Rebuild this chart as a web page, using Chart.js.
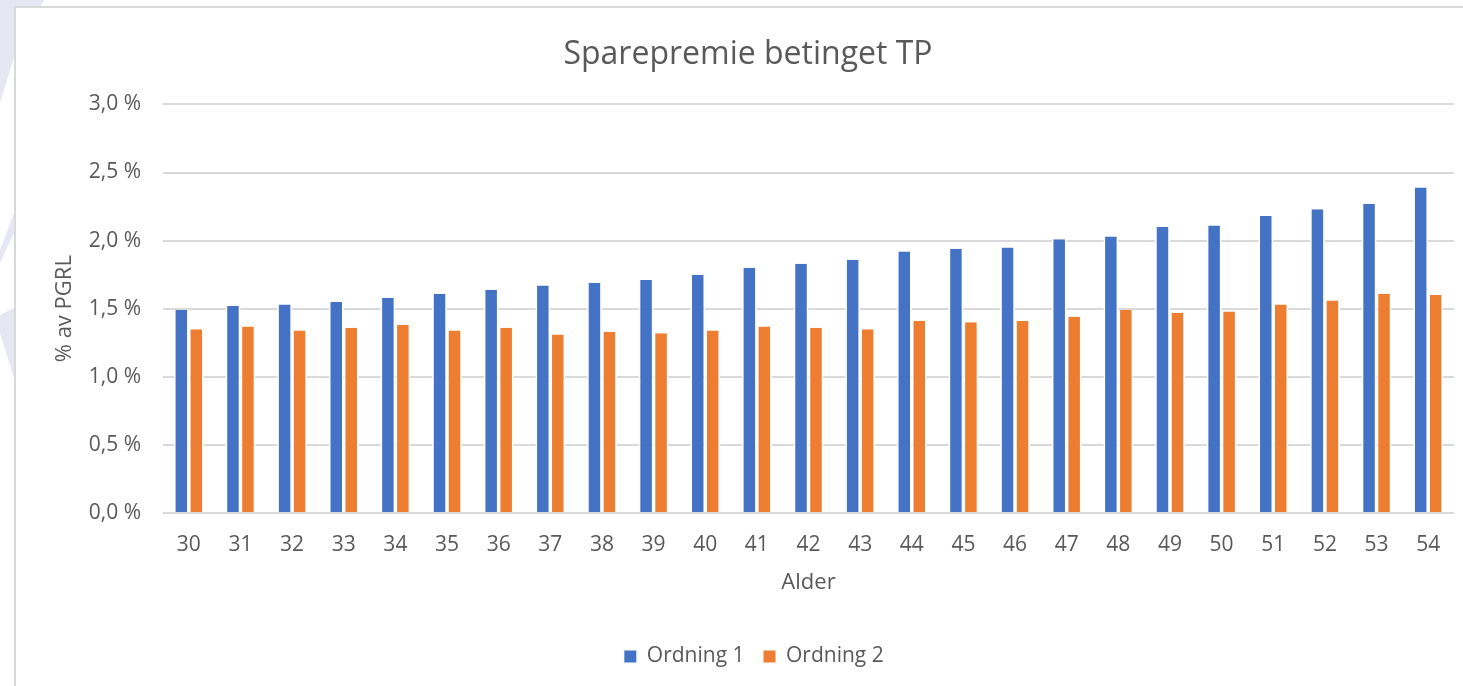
<!DOCTYPE html>
<html><head><meta charset="utf-8">
<script src="https://cdn.jsdelivr.net/npm/chart.js@4"></script>
<style>
html,body{margin:0;padding:0;width:1463px;height:686px;overflow:hidden;background:#fff;}
.deco{position:absolute;background:#e7e7f3;}
#frame{position:absolute;left:14px;top:6px;width:1500px;height:720px;border-left:2px solid #d9d9d9;border-top:2px solid #d9d9d9;background:#fff;}
canvas{position:absolute;left:0;top:0;}
</style></head>
<body>
<div class="deco" style="left:0;top:0;width:44px;height:110px;clip-path:polygon(0px 0px,44px 0px,14px 57px,0px 103px)"></div>
<div class="deco" style="left:0;top:200px;width:14px;height:70px;clip-path:polygon(14px 13px,14px 33px,0px 63px,0px 50px)"></div>
<div class="deco" style="left:0;top:300px;width:14px;height:90px;clip-path:polygon(14px 8px,14px 78px,0px 33px,0px 15px)"></div>
<div id="frame"></div>
<canvas id="c" width="1463" height="686"></canvas>
<script>
const ages = ['30','31','32','33','34','35','36','37','38','39','40','41','42','43','44','45','46','47','48','49','50','51','52','53','54'];
const ordning1 = [1.49,1.52,1.53,1.55,1.58,1.61,1.64,1.67,1.69,1.71,1.75,1.80,1.83,1.86,1.92,1.94,1.95,2.01,2.03,2.10,2.11,2.18,2.23,2.27,2.39];
const ordning2 = [1.35,1.37,1.34,1.36,1.38,1.34,1.36,1.31,1.33,1.32,1.34,1.37,1.36,1.35,1.41,1.40,1.41,1.44,1.49,1.47,1.48,1.53,1.56,1.61,1.60];
const seriesNames = ['Ordning 1','Ordning 2'];
const titleText = 'Sparepremie betinget TP';
const yTitle = '% av PGRL';
const xTitle = 'Alder';

const TXT = '#595959';
const FONT = '"Open Sans", "Noto Sans", sans-serif';
const border = {top:0,bottom:0,left:1.75,right:1.75};

const legendShift = {
  id:'legendShift',
  afterLayout(chart){ if(chart.legend){ chart.legend.left += 6; chart.legend.right += 6; } }
};

new Chart(document.getElementById('c'), {
  type: 'bar',
  data: {
    labels: ages,
    datasets: [
      {label: seriesNames[0], data: ordning1, backgroundColor:'#4472C4', borderColor:'#ffffff', borderWidth:border, borderSkipped:false},
      {label: seriesNames[1], data: ordning2, backgroundColor:'#ED7D31', borderColor:'#ffffff', borderWidth:border, borderSkipped:false}
    ]
  },
  plugins:[legendShift],
  options: {
    responsive:false,
    animation:false,
    devicePixelRatio:1,
    layout:{padding:{left:42,right:9,top:0,bottom:9}},
    datasets:{bar:{categoryPercentage:0.58,barPercentage:1}},
    plugins:{
      title:{display:true,text:titleText,color:TXT,font:{family:FONT,size:32,weight:'normal'},padding:{top:36,bottom:30}},
      legend:{position:'bottom',labels:{color:TXT,font:{family:FONT,size:21},boxWidth:12,boxHeight:12,padding:19,
        generateLabels(chart){return chart.data.datasets.map((d,i)=>({text:d.label,fillStyle:d.backgroundColor,strokeStyle:d.backgroundColor,lineWidth:0,datasetIndex:i,fontColor:TXT}));}}},
      tooltip:{enabled:false}
    },
    scales:{
      x:{
        grid:{display:false,drawTicks:false},
        border:{display:false},
        ticks:{color:TXT,font:{family:FONT,size:21},padding:19,maxRotation:0,autoSkip:false},
        title:{display:true,text:xTitle,color:TXT,font:{family:FONT,size:22},padding:{top:0,bottom:31}},
        afterFit(s){s.height=114;}
      },
      y:{
        min:0,max:3,
        grid:{color:'#d9d9d9',lineWidth:2,drawTicks:false},
        border:{display:false},
        ticks:{stepSize:0.5,color:TXT,font:{family:FONT,size:21},padding:22,
          callback:v=>v.toFixed(1).replace('.',',')+' %'},
        title:{display:true,text:yTitle,color:TXT,font:{family:FONT,size:22},padding:{top:10,bottom:0}},
        afterFit(s){s.width=121;}
      }
    }
  }
});
</script>
</body></html>
